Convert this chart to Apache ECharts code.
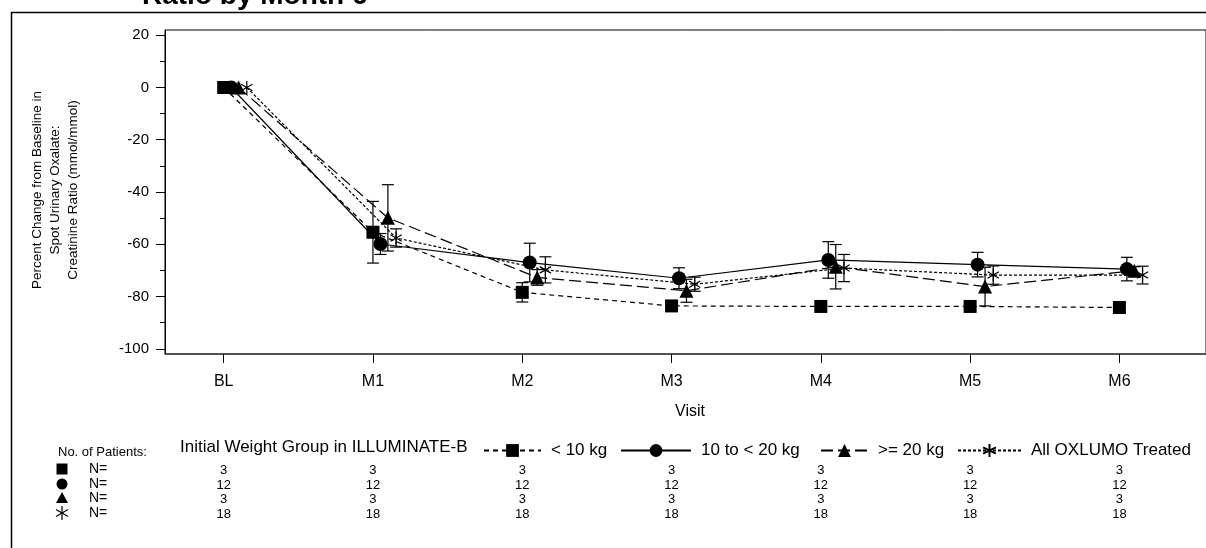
<!DOCTYPE html>
<html>
<head>
<meta charset="utf-8">
<script src="https://cdn.jsdelivr.net/npm/echarts@6/dist/echarts.min.js"></script>
<style>
  html, body { margin: 0; padding: 0; background: #fff; }
  #main { width: 1206px; height: 548px; }
</style>
</head>
<body>
<div id="main"></div>
<script>
var visits = ['BL', 'M1', 'M2', 'M3', 'M4', 'M5', 'M6'];
var groupNames = ['< 10 kg', '10 to < 20 kg', '>= 20 kg', 'All OXLUMO Treated'];

// mean percent change from baseline
var meanLt10   = [0, -55.4, -78.4, -83.6, -83.8, -83.8, -84.2];
var mean10to20 = [0, -59.9, -67.0, -73.0, -66.0, -67.8, -69.5];
var meanGe20   = [0, -49.9, -72.7, -77.8, -68.6, -76.2, -70.1];
var meanAll    = [0, -57.6, -69.8, -75.3, -69.1, -71.8, -71.8];

// standard errors (half length of the bars)
var seLt10   = [0, 11.8, 3.7, 0.6, 0.6, 0.6, 0.6];
var se10to20 = [0, 4.0, 7.4, 4.0, 7.0, 4.7, 4.5];
var seGe20   = [0, 12.7, 3.0, 4.4, 8.5, 7.4, 1.5];
var seAll    = [0, 3.5, 5.0, 2.7, 5.2, 3.5, 3.4];

// number of patients
var nLt10   = [3, 3, 3, 3, 3, 3, 3];
var n10to20 = [12, 12, 12, 12, 12, 12, 12];
var nGe20   = [3, 3, 3, 3, 3, 3, 3];
var nAll    = [18, 18, 18, 18, 18, 18, 18];

var yLabelTicks = [-100, -80, -60, -40, -20, 0, 20];
var yMinorTicks = [-90, -70, -50, -30, -10, 10];

var starPath = 'path://M5,0L5,10M0.67,2.5L9.33,7.5M0.67,7.5L9.33,2.5';
var fontName = '"Liberation Sans", Arial, sans-serif';

var groups = [
  {name: groupNames[0], mean: meanLt10,   se: seLt10,   n: nLt10,   off: 0,     symbol: 'rect',     size: 13, dash: [5, 4]},
  {name: groupNames[1], mean: mean10to20, se: se10to20, n: n10to20, off: 0.05,  symbol: 'circle',   size: 14, dash: 'solid'},
  {name: groupNames[2], mean: meanGe20,   se: seGe20,   n: nGe20,   off: 0.1,   symbol: 'triangle', size: 14, dash: [12, 5]},
  {name: groupNames[3], mean: meanAll,    se: seAll,    n: nAll,    off: 0.155, symbol: starPath,   size: 13, dash: [3, 2]}
];

var series = [];
groups.forEach(function (g) {
  var bars = [];
  g.mean.forEach(function (m, i) {
    if (g.se[i] > 0) bars.push([i + g.off, m - g.se[i], m + g.se[i]]);
  });
  series.push({
    name: g.name + ' SE',
    type: 'custom',
    z: 2,
    silent: true,
    data: bars,
    renderItem: function (params, api) {
      var x = api.value(0);
      var top = api.coord([x, api.value(2)]);
      var bot = api.coord([x, api.value(1)]);
      var hw = 6;
      var st = {stroke: '#000', lineWidth: 1.2};
      return {
        type: 'group',
        children: [
          {type: 'line', shape: {x1: top[0], y1: top[1], x2: bot[0], y2: bot[1]}, style: st},
          {type: 'line', shape: {x1: top[0] - hw, y1: top[1], x2: top[0] + hw, y2: top[1]}, style: st},
          {type: 'line', shape: {x1: bot[0] - hw, y1: bot[1], x2: bot[0] + hw, y2: bot[1]}, style: st}
        ]
      };
    }
  });
  series.push({
    name: g.name,
    type: 'line',
    z: 3,
    data: g.mean.map(function (m, i) { return [i + g.off, m]; }),
    symbol: g.symbol,
    symbolSize: g.size,
    symbolKeepAspect: true,
    lineStyle: {color: '#000', width: 1.2, type: g.dash},
    itemStyle: {color: '#000', borderColor: '#000', borderWidth: g.symbol === starPath ? 1.2 : 0}
  });
});

var legendLeft = [478, 615, 815, 952];
var legendWidth = [57, 70, 47, 63];
var legends = groups.map(function (g, i) {
  return {
    data: [g.name],
    left: legendLeft[i],
    top: 437,
    itemWidth: legendWidth[i],
    itemHeight: 16,
    selectedMode: false,
    textStyle: {fontSize: 17, color: '#000', fontFamily: fontName, padding: [0, 0, 0, 5]}
  };
});

var option = {
  animation: false,
  backgroundColor: '#fff',
  textStyle: {fontFamily: fontName},
  grid: {left: 165, top: 30, right: -5, bottom: 194, show: true, borderColor: '#000', borderWidth: 1},
  legend: legends,
  xAxis: {
    type: 'value',
    min: -0.393,
    max: 6.58,
    axisLine: {show: true, onZero: false, lineStyle: {color: '#444', width: 1.5}},
    axisTick: {show: true, customValues: [0, 1, 2, 3, 4, 5, 6], length: 9, lineStyle: {color: '#000'}},
    axisLabel: {
      customValues: [0, 1, 2, 3, 4, 5, 6],
      formatter: function (v) { return visits[Math.round(v)]; },
      fontSize: 16, color: '#000', margin: 20
    },
    splitLine: {show: false}
  },
  yAxis: [
    {
      type: 'value',
      min: -102,
      max: 22,
      axisLine: {show: true, onZero: false, lineStyle: {color: '#000'}},
      axisTick: {show: true, customValues: yLabelTicks, length: 9, lineStyle: {color: '#000'}},
      axisLabel: {customValues: yLabelTicks, fontSize: 15, color: '#000', margin: 16},
      splitLine: {show: false}
    },
    {
      type: 'value',
      position: 'left',
      min: -102,
      max: 22,
      axisLine: {show: false, onZero: false},
      axisTick: {show: true, customValues: yMinorTicks, length: 5, lineStyle: {color: '#000'}},
      axisLabel: {show: false},
      splitLine: {show: false}
    }
  ],
  series: series
};

var chart = echarts.init(document.getElementById('main'));
chart.setOption(option);

// texts and the patients table
var graphics = [
  {type: 'rect', shape: {x: 11.5, y: 12.5, width: 1400, height: 700}, style: {fill: 'none', stroke: '#000', lineWidth: 1.5}, z: -1},
  {type: 'text', x: 142, y: 10, style: {text: 'Ratio by Month 6', font: 'bold 28px ' + fontName, fill: '#000', verticalAlign: 'bottom'}},
  {type: 'text', x: 55, y: 190, rotation: Math.PI / 2,
   style: {text: 'Percent Change from Baseline in\nSpot Urinary Oxalate:\nCreatinine Ratio (mmol/mmol)', font: '13.5px ' + fontName,
           fill: '#000', align: 'center', verticalAlign: 'middle', lineHeight: 18}},
  {type: 'text', x: 690, y: 412, style: {text: 'Visit', font: '16px ' + fontName, fill: '#000', align: 'center', verticalAlign: 'middle'}},
  {type: 'text', x: 58, y: 452, style: {text: 'No. of Patients:', font: '13px ' + fontName, fill: '#000', verticalAlign: 'middle'}},
  {type: 'text', x: 180, y: 447, style: {text: 'Initial Weight Group in ILLUMINATE-B', font: '17px ' + fontName, fill: '#000', verticalAlign: 'middle'}}
];

var rowY = [469, 484, 498, 513];
var sx = 62;
graphics.push({type: 'rect', shape: {x: sx - 5.5, y: rowY[0] - 5.5, width: 11, height: 11}, style: {fill: '#000'}});
graphics.push({type: 'circle', shape: {cx: sx, cy: rowY[1], r: 5.5}, style: {fill: '#000'}});
graphics.push({type: 'polygon', shape: {points: [[sx, rowY[2] - 6], [sx - 6, rowY[2] + 5], [sx + 6, rowY[2] + 5]]}, style: {fill: '#000'}});
var starStyle = {stroke: '#000', lineWidth: 1.2};
graphics.push({type: 'line', shape: {x1: sx, y1: rowY[3] - 7, x2: sx, y2: rowY[3] + 7}, style: starStyle});
graphics.push({type: 'line', shape: {x1: sx - 6, y1: rowY[3] - 3.5, x2: sx + 6, y2: rowY[3] + 3.5}, style: starStyle});
graphics.push({type: 'line', shape: {x1: sx - 6, y1: rowY[3] + 3.5, x2: sx + 6, y2: rowY[3] - 3.5}, style: starStyle});

groups.forEach(function (g, r) {
  graphics.push({type: 'text', x: 89, y: rowY[r], style: {text: 'N=', font: '14px ' + fontName, fill: '#000', verticalAlign: 'middle'}});
  g.n.forEach(function (v, i) {
    var px = chart.convertToPixel({xAxisIndex: 0, yAxisIndex: 0}, [i, 0])[0];
    graphics.push({type: 'text', x: px, y: rowY[r] + 1, style: {text: String(v), font: '13px ' + fontName, fill: '#000', align: 'center', verticalAlign: 'middle'}});
  });
});

chart.setOption({graphic: graphics});

window.addEventListener('resize', function () {
  chart.resize();
});
</script>
</body>
</html>
